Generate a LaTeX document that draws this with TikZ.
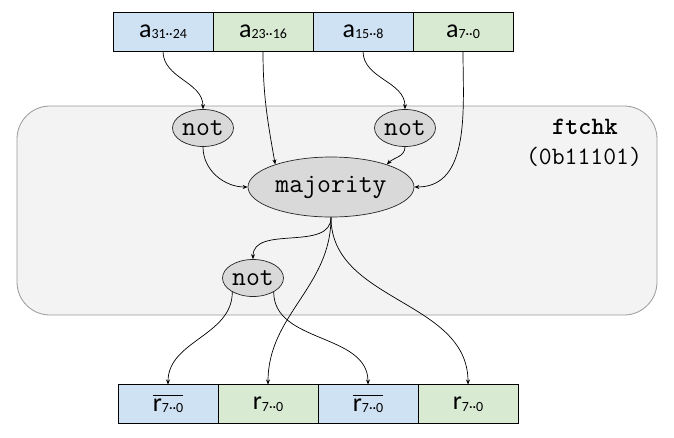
\documentclass[tikz,border=0pt]{standalone}
\usepackage{fontspec}
\setmainfont{Carlito}
\usetikzlibrary{positioning,shapes.geometric,arrows.meta}
\definecolor{wordblue}{HTML}{CFE2F3}
\definecolor{wordgreen}{HTML}{D9EAD3}
\definecolor{unitgray}{HTML}{F3F3F3}
\definecolor{unitline}{HTML}{999999}
\definecolor{opgray}{HTML}{D9D9D9}
\newcommand\bitsub[1]{\raisebox{-0.12ex}{\fontsize{14}{14}\selectfont #1}}
\newcommand\negword[1]{$\overline{\mbox{\rule{0pt}{0.56em}#1}}$}
\tikzset{word/.style={rectangle,draw,inner sep=0pt,outer sep=0pt,minimum width=100pt,minimum height=39pt,line width=0.8pt,font=\fontsize{26}{26}\selectfont},
	 bword/.style={word,fill=wordblue},
	 gword/.style={word,fill=wordgreen},
	 op/.style={ellipse,draw=black!85,fill=opgray,inner sep=0pt,line width=0.7pt,font=\ttfamily\fontsize{27}{27}\selectfont},
	 notop/.style={op,minimum width=61pt,minimum height=37pt},
	 wire/.style={-{Stealth[length=5pt,width=4pt]},line width=0.7pt},
	 node distance = 0pt
	 }
\begin{document}
\begin{tikzpicture}[x=1pt,y=1pt] % ftchk unit
	\useasboundingbox (0,0) rectangle (674,-437);
	\node[draw=unitline,fill=unitgray,rounded corners=33pt,minimum width=640pt,minimum height=209pt,line width=0.8pt] (unit) at (337,-210.5) {};
	\node[font=\ttfamily\bfseries\fontsize{25}{25}\selectfont] (name) at (585,-127) {ftchk};
	\node[font=\ttfamily\fontsize{25}{25}\selectfont] (mask) at (584,-157) {(0b11101)};
	% input words
	\node[bword] (a1) at (163,-31.5) {a\bitsub{31··24}};
	\node[gword] (a2) [right=of a1] {a\bitsub{23··16}};
	\node[bword] (a3) [right=of a2] {a\bitsub{15··8}};
	\node[gword] (a4) [right=of a3] {a\bitsub{7··0}};
	% result words
	\node[bword] (r1) at (168,-404) {\negword{r\bitsub{7··0}}};
	\node[gword] (r2) [right=of r1] {r\bitsub{7··0}};
	\node[bword] (r3) [right=of r2] {\negword{r\bitsub{7··0}}};
	\node[gword] (r4) [right=of r3] {r\bitsub{7··0}};
	% operations
	\node[notop] (not1) at (203,-128) {not};
	\node[notop] (not2) at (405,-128) {not};
	\node[op,minimum width=166pt,minimum height=60pt] (maj) at (331,-187) {majority};
	\node[notop] (not3) at (253,-278) {not};
	\draw[wire] (a1.south) to[out=-90,in=90] (not1.north);
	\draw[wire] (a2.south) to[out=-90,in=100] (maj.158);
	\draw[wire] (a3.south) to[out=-90,in=90] (not2.north);
	\draw[wire] (a4.south) to[out=-90,in=0] (maj.east);
	\draw[wire] (not1.south) to[out=-90,in=180] (maj.west);
	\draw[wire] (not2.south) to[out=-90,in=45] (maj.22);
	\draw[wire] (maj.south) to[out=-90,in=90] (not3.north);
	\draw[wire] (maj.south) to[out=-90,in=90] (r2.north);
	\draw[wire] (maj.south) to[out=-90,in=90] (r4.north);
	\draw[wire] (not3.214) to[out=-90,in=90] (r1.north);
	\draw[wire] (not3.326) to[out=-90,in=90] (r3.north);
\end{tikzpicture}
\end{document}
